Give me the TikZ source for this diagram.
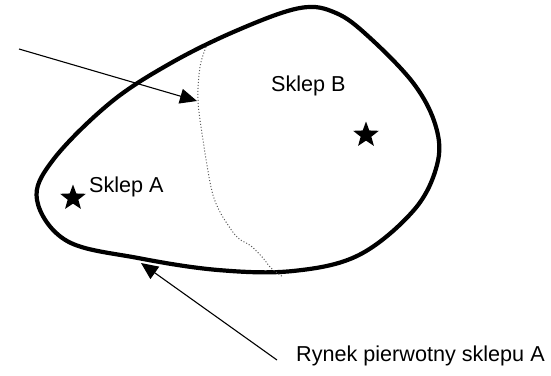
\documentclass[tikz,border=0pt]{standalone}
\usepackage{fontspec}
\setmainfont{Liberation Sans}
\usetikzlibrary{arrows.meta,shapes.geometric}
\begin{document}
\begin{tikzpicture}[x=1pt,y=-1pt,
  outline/.style={line width=4.2pt, line join=round},
  divider/.style={black!65, line width=1pt, dotted},
  arr/.style={line width=1.1pt, -{Triangle[length=17pt,width=15pt]}},
  lbl/.style={font=\fontsize{21.6}{24}\selectfont, inner sep=0pt, anchor=base west},
  starmark/.style={star, star points=5, star point ratio=2.4, fill=black, draw=none, inner sep=0pt, minimum size=27pt}
]
\useasboundingbox (0,0) rectangle (551,375);
% market area outline
\draw[outline] plot[smooth cycle, tension=0.6] coordinates {
  (37,200) (53,160) (110,103) (171,63) (238,30) (300,8) (336,13) (369,37)
  (414,84) (436,127) (437,165) (414,210) (359,255) (293,271) (218,270)
  (138,258) (67,241)};
% boundary between the two shops' markets
\draw[divider] plot[smooth, tension=0.6] coordinates {
  (206,47) (200,67) (198,100) (203,140) (211,187) (218,208) (228,225)
  (238,238) (251,246) (263,258) (271,268) (283,277)};
% stars
\node[starmark] (starA) at (73,198) {};
\node[starmark] (starB) at (366,135) {};
% labels
\node[lbl] (sklepA) at (89,192) {Sklep A};
\node[lbl] (sklepB) at (271,91) {Sklep B};
\node[lbl] (rynek) at (296,361) {Rynek pierwotny sklepu A};
% arrows
\coordinate (s1) at (19,49);
\coordinate (t1) at (197,101);
\coordinate (s2) at (277,360);
\coordinate (t2) at (141,263);
\draw[arr] (s1) -- (t1);
\draw[arr] (s2) -- (t2);
\end{tikzpicture}
\end{document}
